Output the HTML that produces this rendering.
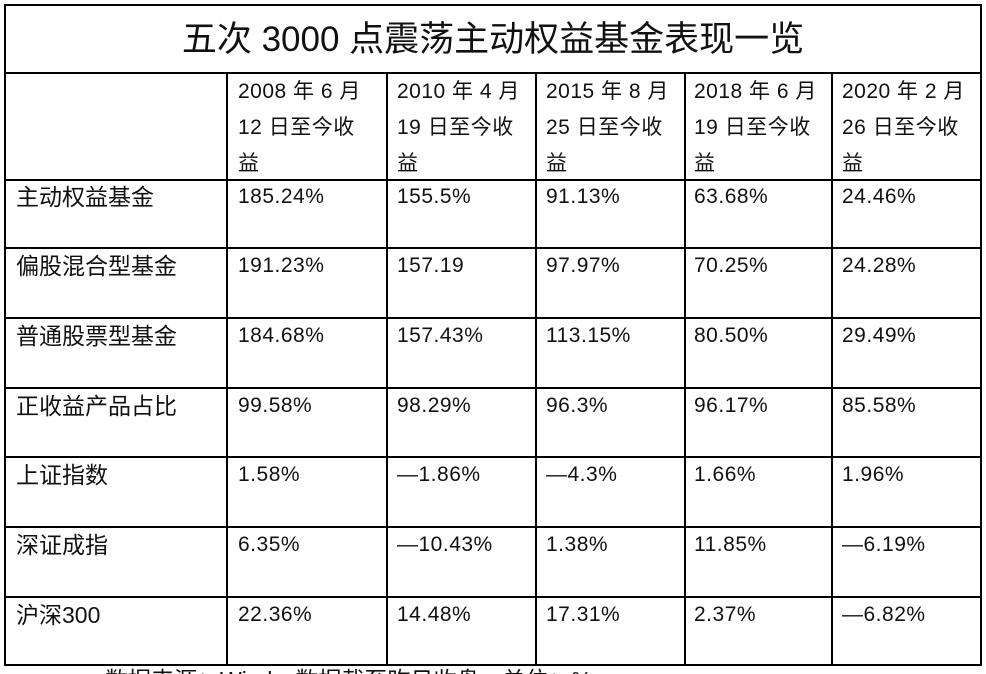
<!DOCTYPE html>
<html style="height:674px;overflow:hidden"><head><meta charset="utf-8"><style>
body{margin:0;width:986px;height:674px;background:#fff;overflow:hidden;position:relative;font-family:"Liberation Sans","Noto Sans CJK SC",sans-serif;color:#111}
.h{position:absolute;background:#000}
.t{position:absolute;font-size:21px;line-height:24px;white-space:nowrap;letter-spacing:0.5px}
.c{position:absolute;font-size:23px;line-height:24px;white-space:nowrap}
.hd{position:absolute;font-size:21px;line-height:36px;letter-spacing:0.5px;white-space:nowrap}
</style></head><body>
<div class="h" style="left:4px;top:4px;width:978px;height:2px"></div>
<div class="h" style="left:4px;top:72px;width:978px;height:2px"></div>
<div class="h" style="left:4px;top:179px;width:978px;height:2px"></div>
<div class="h" style="left:4px;top:247px;width:978px;height:2px"></div>
<div class="h" style="left:4px;top:317px;width:978px;height:2px"></div>
<div class="h" style="left:4px;top:387px;width:978px;height:2px"></div>
<div class="h" style="left:4px;top:456px;width:978px;height:2px"></div>
<div class="h" style="left:4px;top:526px;width:978px;height:2px"></div>
<div class="h" style="left:4px;top:596px;width:978px;height:2px"></div>
<div class="h" style="left:4px;top:664px;width:978px;height:2px"></div>
<div class="h" style="left:4px;top:4px;width:2px;height:662px"></div>
<div class="h" style="left:980px;top:4px;width:2px;height:662px"></div>
<div class="h" style="left:226px;top:72px;width:2px;height:594px"></div>
<div class="h" style="left:386px;top:72px;width:2px;height:594px"></div>
<div class="h" style="left:535px;top:72px;width:2px;height:594px"></div>
<div class="h" style="left:684px;top:72px;width:2px;height:594px"></div>
<div class="h" style="left:831px;top:72px;width:2px;height:594px"></div>
<div style="position:absolute;left:6px;width:974px;top:18px;text-align:center;font-size:35px;line-height:44px">五次 3000 点震荡主动权益基金表现一览</div>
<div class="hd" style="left:238px;top:74px">2008 年 6 月<br>12 日至今收<br>益</div>
<div class="hd" style="left:397px;top:74px">2010 年 4 月<br>19 日至今收<br>益</div>
<div class="hd" style="left:546px;top:74px">2015 年 8 月<br>25 日至今收<br>益</div>
<div class="hd" style="left:694px;top:74px">2018 年 6 月<br>19 日至今收<br>益</div>
<div class="hd" style="left:842px;top:74px">2020 年 2 月<br>26 日至今收<br>益</div>
<div class="c" style="left:16px;top:185px">主动权益基金</div>
<div class="t" style="left:238px;top:185px">185.24%</div><div class="t" style="left:397px;top:185px">155.5%</div><div class="t" style="left:546px;top:185px">91.13%</div><div class="t" style="left:694px;top:185px">63.68%</div><div class="t" style="left:842px;top:185px">24.46%</div>
<div class="c" style="left:16px;top:254px">偏股混合型基金</div>
<div class="t" style="left:238px;top:254px">191.23%</div><div class="t" style="left:397px;top:254px">157.19</div><div class="t" style="left:546px;top:254px">97.97%</div><div class="t" style="left:694px;top:254px">70.25%</div><div class="t" style="left:842px;top:254px">24.28%</div>
<div class="c" style="left:16px;top:324px">普通股票型基金</div>
<div class="t" style="left:238px;top:324px">184.68%</div><div class="t" style="left:397px;top:324px">157.43%</div><div class="t" style="left:546px;top:324px">113.15%</div><div class="t" style="left:694px;top:324px">80.50%</div><div class="t" style="left:842px;top:324px">29.49%</div>
<div class="c" style="left:16px;top:394px">正收益产品占比</div>
<div class="t" style="left:238px;top:394px">99.58%</div><div class="t" style="left:397px;top:394px">98.29%</div><div class="t" style="left:546px;top:394px">96.3%</div><div class="t" style="left:694px;top:394px">96.17%</div><div class="t" style="left:842px;top:394px">85.58%</div>
<div class="c" style="left:16px;top:463px">上证指数</div>
<div class="t" style="left:238px;top:463px">1.58%</div><div class="t" style="left:397px;top:463px">—1.86%</div><div class="t" style="left:546px;top:463px">—4.3%</div><div class="t" style="left:694px;top:463px">1.66%</div><div class="t" style="left:842px;top:463px">1.96%</div>
<div class="c" style="left:16px;top:533px">深证成指</div>
<div class="t" style="left:238px;top:533px">6.35%</div><div class="t" style="left:397px;top:533px">—10.43%</div><div class="t" style="left:546px;top:533px">1.38%</div><div class="t" style="left:694px;top:533px">11.85%</div><div class="t" style="left:842px;top:533px">—6.19%</div>
<div class="c" style="left:16px;top:603px">沪深300</div>
<div class="t" style="left:238px;top:603px">22.36%</div><div class="t" style="left:397px;top:603px">14.48%</div><div class="t" style="left:546px;top:603px">17.31%</div><div class="t" style="left:694px;top:603px">2.37%</div><div class="t" style="left:842px;top:603px">—6.82%</div>
<div class="c" style="left:105px;top:668px">数据来源：Wind，数据截至昨日收盘，单位：%</div>
</body></html>
